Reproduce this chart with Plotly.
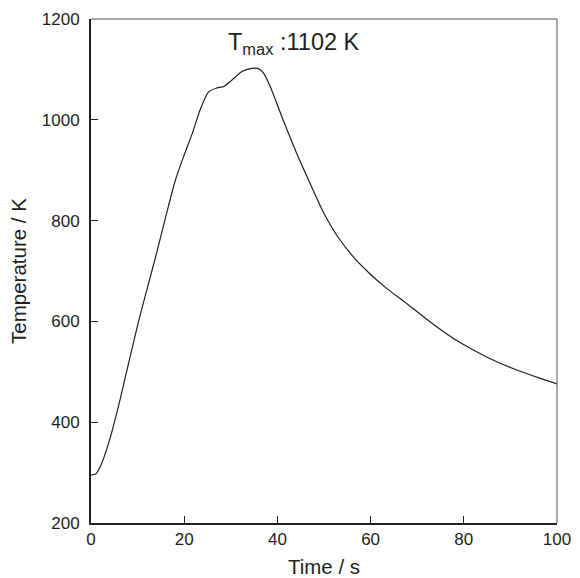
import plotly.graph_objects as go

time_s = [0, 1, 2, 3.8, 5.9, 7.4, 8.1, 10.2, 12.2, 14.2, 16.1, 18.1, 19.9, 21.7, 23.5, 25.2,
          27.0, 28.5, 29.9, 32.4, 34.5, 35.8, 37.0, 38.5, 41.3, 44.2, 47.1, 49.9, 52.8, 56.4,
          59.9, 63.5, 67.8, 73.5, 79.2, 85.0, 90.7, 96.4, 100]
temp_K = [295, 297, 312, 359, 432, 491, 518, 600, 670, 740, 810, 880, 928, 972, 1022, 1055,
          1063, 1066, 1076, 1096, 1102, 1102, 1093, 1065, 998, 932, 872, 816, 770, 727,
          694, 665, 635, 594, 558, 529, 506, 487, 476]
x_ticks = [0, 20, 40, 60, 80, 100]
y_ticks = [200, 400, 600, 800, 1000, 1200]
annot_text = "T<sub>max</sub> :1102 K"

TXT = "#231f20"
FONT = "Liberation Sans, Arial, sans-serif"

fig = go.Figure()
fig.add_trace(go.Scatter(x=time_s, y=temp_K, mode="lines",
                         line=dict(color=TXT, width=1.2, shape="spline", smoothing=0.6),
                         showlegend=False, hoverinfo="skip"))

fig.update_layout(
    width=580, height=578,
    margin=dict(l=91, r=23, t=19, b=55, autoexpand=False),
    paper_bgcolor="white", plot_bgcolor="white",
    font=dict(family=FONT, color=TXT, size=17),
    xaxis=dict(range=[0, 100], tickvals=x_ticks, ticks="inside", ticklen=7, tickwidth=1,
               tickcolor=TXT, showline=True, linecolor=TXT, linewidth=2, showgrid=False,
               zeroline=False, automargin=False,
               title=dict(text="Time / s", font=dict(size=20.5), standoff=12),
               tickfont=dict(size=17)),
    yaxis=dict(range=[200, 1200], tickvals=y_ticks, ticks="inside", ticklen=7, tickwidth=1,
               tickcolor=TXT, showline=True, linecolor=TXT, linewidth=2, showgrid=False,
               zeroline=False, automargin=False,
               title=dict(text="Temperature / K", font=dict(size=20.5), standoff=10),
               tickfont=dict(size=17), ticklabelstandoff=6),
)
# thin grey top and right frame
fig.add_shape(type="line", xref="paper", yref="paper", x0=0, x1=1, y0=1, y1=1,
              line=dict(color="#555555", width=1))
fig.add_shape(type="line", xref="paper", yref="paper", x0=1, x1=1, y0=0, y1=1,
              line=dict(color="#555555", width=1))

fig.add_annotation(text=annot_text, xref="paper", yref="paper", x=0.436, y=0.952,
                   xanchor="center", yanchor="middle", showarrow=False,
                   font=dict(size=23.5, color=TXT, family=FONT))

fig.write_html("out.html", config={"displayModeBar": False},
               post_script="document.body.style.margin='0';document.body.style.overflow='hidden';")
